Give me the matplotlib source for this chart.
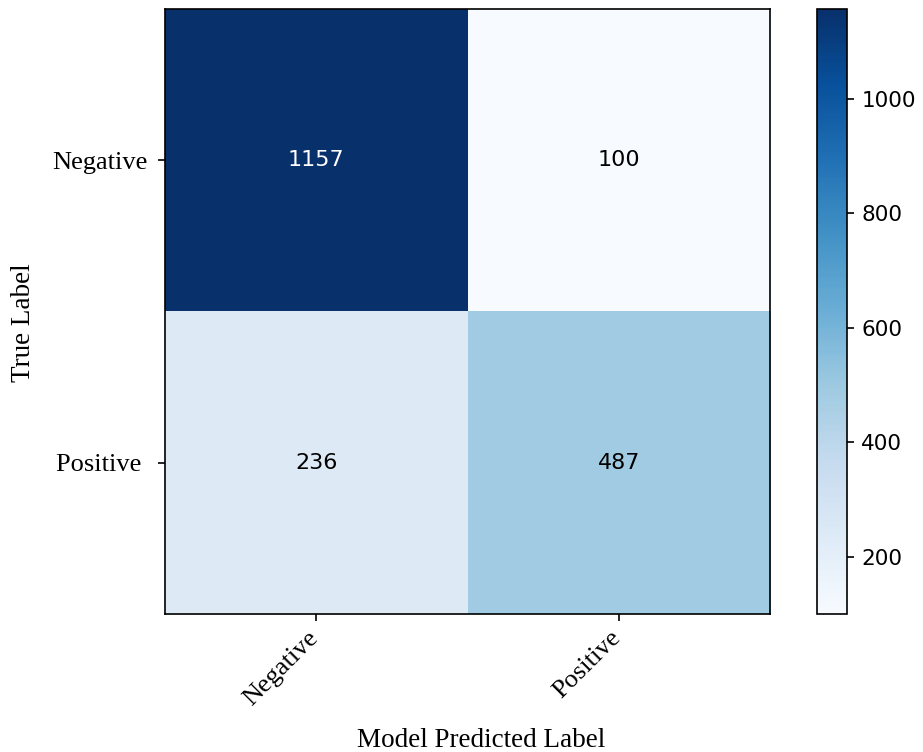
import numpy as np
import matplotlib
matplotlib.use("Agg")
import matplotlib.pyplot as plt
from matplotlib.transforms import ScaledTranslation

# Confusion matrix counts (rows: true label, columns: predicted label)
pred_labels = ["Negative", "Positive"]
true_labels = ["Negative", "Positive "]
counts = np.array([[1157, 100],
                   [236, 487]])
cbar_ticks = [200, 400, 600, 800, 1000]

plt.rcParams["xtick.major.size"] = 5.25
plt.rcParams["ytick.major.size"] = 5.25
plt.rcParams["xtick.major.width"] = 1.2
plt.rcParams["ytick.major.width"] = 1.2
plt.rcParams["axes.linewidth"] = 1.2

fig = plt.figure(figsize=(9.23, 7.52), dpi=100)
ax = fig.add_axes([0.1788, 0.1835, 0.6555, 0.8045])
cax = fig.add_axes([0.8852, 0.1835, 0.0325, 0.8045])

im = ax.imshow(counts, cmap="Blues", interpolation="nearest", aspect="auto")
cb = fig.colorbar(im, cax=cax, ticks=cbar_ticks)
cb.ax.tick_params(labelsize=15.5, pad=5)
cb.outline.set_linewidth(1.2)

serif = "Liberation Serif"
ax.set_xticks(np.arange(len(pred_labels)))
ax.set_yticks(np.arange(len(true_labels)))
ax.set_xticklabels(pred_labels, rotation=45, ha="right",
                   fontsize=19, family=serif)
ax.set_yticklabels(true_labels, fontsize=19, family=serif)
ax.tick_params(axis="x", pad=4)
ax.tick_params(axis="y", pad=7)
# nudge the rotated category labels a little to the right of their ticks
nudge = ScaledTranslation(6 / 100, 0, fig.dpi_scale_trans)
for lbl in ax.get_xticklabels():
    lbl.set_transform(lbl.get_transform() + nudge)
ax.set_xlabel("Model Predicted Label", fontsize=19.5, family=serif, labelpad=13)
ax.set_ylabel("True Label", fontsize=19.5, family=serif, labelpad=12)
ax.xaxis.label.set_x(0.522)
ax.yaxis.label.set_y(0.481)

thresh = counts.max() / 2.0
for i in range(counts.shape[0]):
    for j in range(counts.shape[1]):
        ax.text(j, i, format(counts[i, j], "d"), ha="center", va="center",
                fontsize=16,
                color="white" if counts[i, j] > thresh else "black")

fig.savefig("out.png", dpi=100)
